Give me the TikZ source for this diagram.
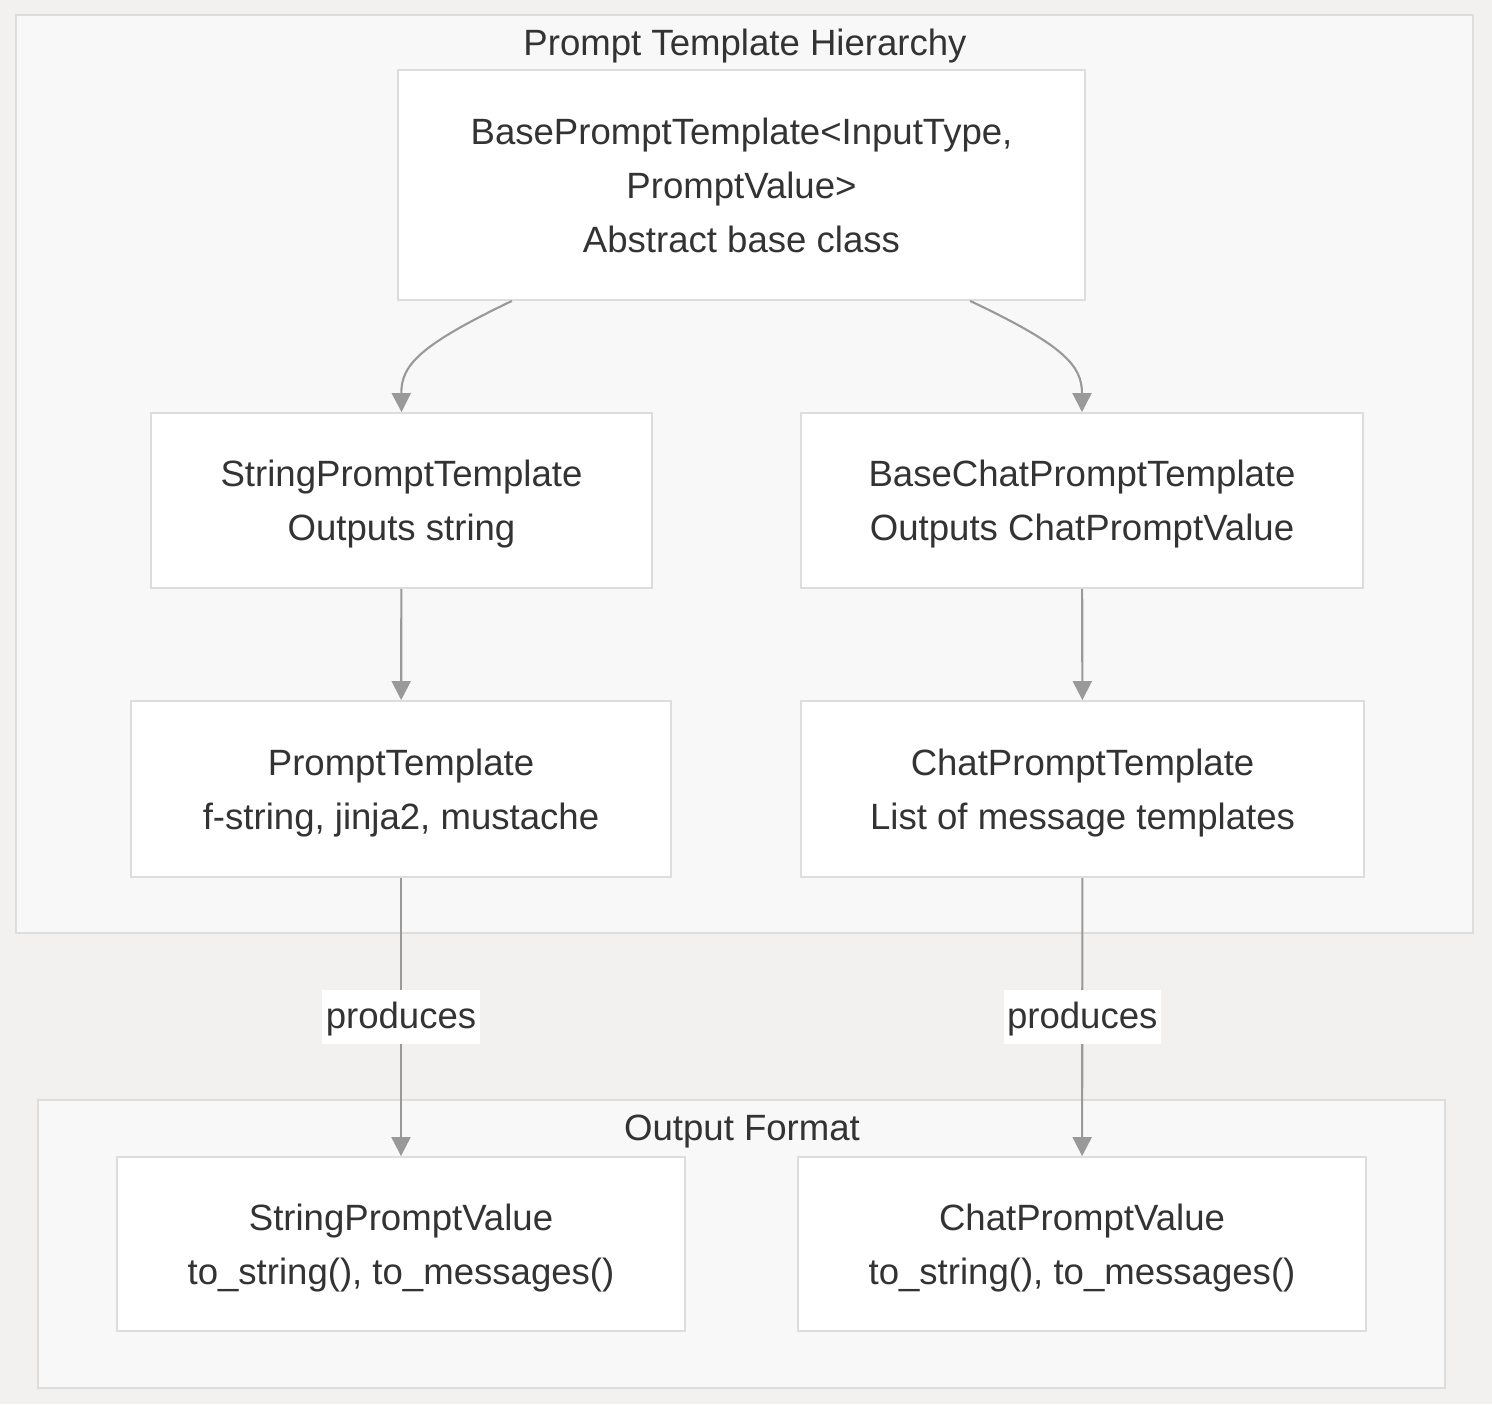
\documentclass[tikz,border=0pt]{standalone}
\usepackage{fontspec}
\setmainfont{Liberation Sans}
\usetikzlibrary{positioning,arrows.meta}
\definecolor{bgcol}{HTML}{F2F1F0}
\definecolor{clustercol}{HTML}{F8F8F8}
\definecolor{linecol}{HTML}{DDDDDD}
\definecolor{edgecol}{HTML}{999999}
\definecolor{textcol}{HTML}{333333}

\begin{document}
\begin{tikzpicture}[x=0.01cm, y=-0.01cm,
    every node/.style={text=textcol, font=\fontsize{10.4}{15.4}\selectfont, align=center},
    box/.style={draw=linecol, line width=0.5pt, fill=white, inner sep=0pt, text depth=-1pt},
    cluster/.style={draw=linecol, line width=0.6pt, fill=clustercol},
    edge/.style={draw=edgecol, line width=0.6pt, -{Triangle[width=5.4pt,length=5.4pt]}},
    lbl/.style={fill=white, inner sep=1pt, minimum height=0.53cm}]
    % background and groups
    \fill [bgcol] (0,0) rectangle (1492,1404);
    \path [cluster] (16,15) rectangle (1473,933);
    \path [cluster] (38,1100) rectangle (1445,1388);
    \node (hiertitle) at (745,46) {Prompt Template Hierarchy};
    \node (outtitle) at (742,1132) {Output Format};
    % Nodes
    \node [box, minimum width=6.87cm, minimum height=2.30cm] (base) at (741.5,185) {BasePromptTemplate<InputType,\\PromptValue>\\Abstract base class};
    \node [box, minimum width=5.01cm, minimum height=1.75cm] (strtpl) at (401.5,500.5) {StringPromptTemplate\\Outputs string};
    \node [box, minimum width=5.62cm, minimum height=1.75cm] (chattpl) at (1082,500.5) {BaseChatPromptTemplate\\Outputs ChatPromptValue};
    \node [box, minimum width=5.40cm, minimum height=1.76cm] (prompttpl) at (401,789) {PromptTemplate\\f-string, jinja2, mustache};
    \node [box, minimum width=5.63cm, minimum height=1.76cm] (chatprompt) at (1082.5,789) {ChatPromptTemplate\\List of message templates};
    \node [box, minimum width=5.68cm, minimum height=1.74cm] (strval) at (401,1244) {StringPromptValue\\to\_string(), to\_messages()};
    \node [box, minimum width=5.68cm, minimum height=1.74cm] (chatval) at (1082,1244) {ChatPromptValue\\to\_string(), to\_messages()};
    % Edges
    \draw [edge] ([xshift=-2.295cm]base.south) .. controls (420,345) and (401,365) .. (strtpl.north);
    \draw [edge] ([xshift=2.285cm]base.south) .. controls (1063,345) and (1082,365) .. (chattpl.north);
    \draw [edge] (strtpl) -- (prompttpl);
    \draw [edge] (chattpl) -- (chatprompt);
    \draw [edge] (prompttpl) -- node [lbl, text depth=2.2pt, text height=8.8pt] (prod1) {produces} (strval);
    \draw [edge] (chatprompt) -- node [lbl, text depth=2.2pt, text height=8.8pt] (prod2) {produces} (chatval);
\end{tikzpicture}
\end{document}
